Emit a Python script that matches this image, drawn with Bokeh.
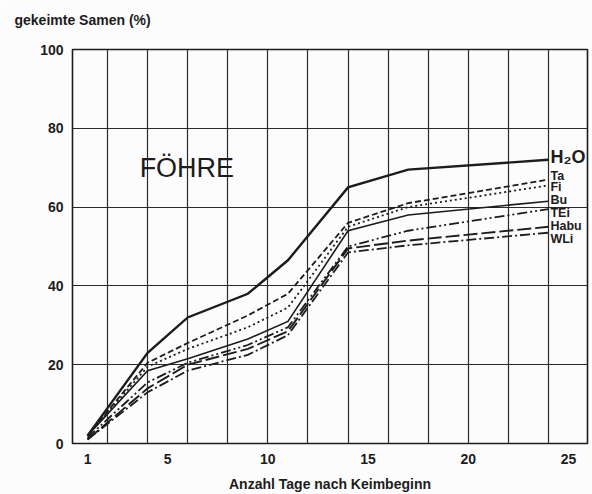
from bokeh.plotting import figure
from bokeh.models import FixedTicker, Label, Range1d
from bokeh.embed import file_html
from bokeh.resources import INLINE

# ---- data ----
days = [1, 4, 6, 9, 11, 14, 17, 24]
h2o = [2, 23, 32, 38, 46.5, 65, 69.5, 72]
ta = [2, 20.5, 25.5, 32.5, 38, 56, 61, 67]
fi = [2, 19.5, 24, 29.5, 34.5, 55, 60, 65.5]
bu = [2, 18.5, 21.5, 26.5, 31, 54, 58, 61.5]
tei = [1.5, 15.5, 20.5, 25, 29.5, 50, 54, 59.5]
habu = [1, 14, 20, 24, 28.5, 49.5, 51.5, 55]
wli = [1, 13, 18.5, 22.5, 27.5, 48.5, 50.3, 53.5]

series_names = ["H₂O", "Ta", "Fi", "Bu", "TEi", "Habu", "WLi"]
series_values = [h2o, ta, fi, bu, tei, habu, wli]

x_tick_labels = [1, 5, 10, 15, 20, 25]
y_tick_labels = [0, 20, 40, 60, 80, 100]
x_grid = [2, 4, 6, 8, 10, 12, 14, 16, 18, 20, 22, 24]
y_grid = [20, 40, 60, 80]

# ---- styles ----
INK = "#1c1c1c"
styles = [
    dict(line_width=2.4, line_dash="solid"),
    dict(line_width=1.8, line_dash="6 3"),
    dict(line_width=1.8, line_dash="2 3"),
    dict(line_width=1.6, line_dash="solid"),
    dict(line_width=1.8, line_dash="10 3 2 3 2 3"),
    dict(line_width=1.9, line_dash="14 4"),
    dict(line_width=1.8, line_dash="10 3 2 3"),
]
label_y = [72.8, 68.0, 65.0, 61.8, 58.5, 55.2, 51.9]
label_size = ["18px", "12.5px", "12.5px", "12.5px", "12.5px", "12.5px", "12.5px"]

p = figure(width=592, height=494, output_backend="svg", toolbar_location=None,
           x_range=Range1d(0.25, 25.95), y_range=Range1d(0, 100),
           min_border_left=72, min_border_right=5, min_border_top=49,
           min_border_bottom=50)
p.background_fill_color = "#fcfcfc"
p.border_fill_color = "#fcfcfc"
p.outline_line_color = INK
p.outline_line_width = 1.6

# second (blank) line lifts the title text further above the frame
p.title.text = "gekeimte Samen (%)\n "
p.title.align = "left"
p.title.vertical_align = "bottom"
p.title.offset = -58
p.title.text_font = "Liberation Sans"
p.title.text_font_style = "bold"
p.title.text_font_size = "14px"
p.title.text_color = INK
p.title.standoff = 12

p.xaxis.ticker = FixedTicker(ticks=x_tick_labels)
p.yaxis.ticker = FixedTicker(ticks=y_tick_labels)
p.xgrid.ticker = FixedTicker(ticks=x_grid)
p.ygrid.ticker = FixedTicker(ticks=y_grid)
for g in (p.xgrid, p.ygrid):
    g.grid_line_color = "#2a2a2a"
    g.grid_line_width = 1.2
    g.grid_line_alpha = 1.0

for ax in (p.xaxis, p.yaxis):
    ax.axis_line_color = None
    ax.major_tick_line_color = None
    ax.minor_tick_line_color = None
    ax.major_tick_out = 0
    ax.major_tick_in = 0
    ax.minor_tick_out = 0
    ax.major_label_text_font = "Liberation Sans"
    ax.major_label_text_font_style = "bold"
    ax.major_label_text_font_size = "14px"
    ax.major_label_text_color = INK
p.yaxis.major_label_standoff = 9
p.xaxis.major_label_standoff = 10

p.xaxis.axis_label = "Anzahl Tage nach Keimbeginn"
p.xaxis.axis_label_text_font = "Liberation Sans"
p.xaxis.axis_label_text_font_style = "bold"
p.xaxis.axis_label_text_font_size = "14px"
p.xaxis.axis_label_text_color = INK
p.xaxis.axis_label_standoff = 9

for vals, st in zip(series_values, styles):
    p.line(days, vals, line_color=INK, line_join="miter", **st)

for name, ly, fs in zip(series_names, label_y, label_size):
    p.add_layout(Label(x=24.1, y=ly, text=name, text_font="Liberation Sans",
                       text_font_style="bold", text_font_size=fs,
                       text_color=INK, text_baseline="middle", text_align="left"))

p.add_layout(Label(x=3.6, y=70, text="FÖHRE", text_font="Liberation Sans",
                   text_font_size="27px", text_color=INK,
                   text_baseline="middle", text_align="left"))

open("out.html", "w").write(file_html(p, INLINE))
